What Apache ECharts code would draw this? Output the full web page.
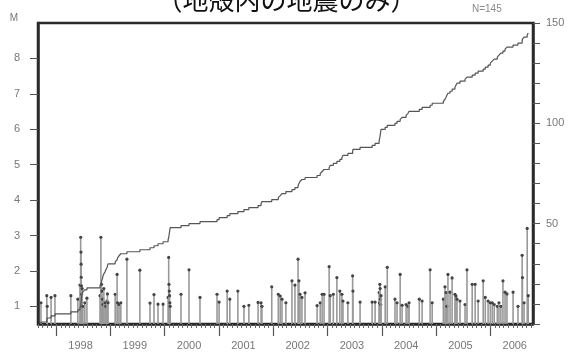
<!DOCTYPE html>
<html>
<head>
<meta charset="utf-8">
<script src="https://cdn.jsdelivr.net/npm/echarts@6/dist/echarts.min.js"></script>
<style>
  html, body { margin: 0; padding: 0; background: #fff; }
  #chart { width: 573px; height: 353px; }
</style>
</head>
<body>
<div id="chart"></div>
<script>
// Title of the M-T diagram
const titleText = '（地殻内の地震のみ）';

// Event origin dates and magnitudes (one entry per earthquake)
const eventDates = [
  '1997-09-21', '1997-10-30', '1997-11-02', '1997-11-28', '1997-12-24', '1998-04-10',
  '1998-05-27', '1998-06-10', '1998-06-15', '1998-06-17', '1998-06-18', '1998-06-19',
  '1998-06-20', '1998-06-22', '1998-06-25', '1998-06-30', '1998-07-13', '1998-07-27',
  '1998-10-23', '1998-10-29', '1998-11-02', '1998-11-05', '1998-11-10', '1998-11-12',
  '1998-11-18', '1998-11-26', '1998-12-01', '1998-12-09', '1998-12-12', '1998-12-16',
  '1999-02-02', '1999-02-15', '1999-02-18', '1999-02-28', '1999-03-12', '1999-04-22',
  '1999-07-18', '1999-09-24', '1999-10-21', '1999-11-17', '1999-12-21',
  '2000-01-24', '2000-01-28', '2000-01-30', '2000-02-01', '2000-02-03', '2000-02-05',
  '2000-02-07', '2000-04-20', '2000-06-13', '2000-08-26', '2000-12-19',
  '2001-01-02', '2001-02-25', '2001-03-15', '2001-05-08', '2001-06-18', '2001-07-21',
  '2001-09-21', '2001-10-11', '2001-10-17', '2001-12-22',
  '2002-02-04', '2002-02-17', '2002-03-01', '2002-03-27', '2002-05-07', '2002-05-27',
  '2002-06-17', '2002-06-23', '2002-06-30', '2002-07-13', '2002-08-03', '2002-10-23',
  '2002-11-13', '2002-11-26', '2002-12-09',
  '2003-01-12', '2003-01-19', '2003-02-09', '2003-03-05', '2003-03-25', '2003-04-08',
  '2003-04-15', '2003-05-18', '2003-06-19', '2003-06-21', '2003-08-08', '2003-10-28',
  '2003-11-17', '2003-12-14', '2003-12-16', '2003-12-19', '2003-12-21', '2003-12-23',
  '2003-12-25', '2003-12-27',
  '2004-01-24', '2004-02-07', '2004-03-30', '2004-04-13', '2004-05-04', '2004-05-17',
  '2004-06-13', '2004-06-26', '2004-07-03', '2004-09-10', '2004-09-29', '2004-11-22',
  '2004-12-06',
  '2005-02-19', '2005-03-02', '2005-03-09', '2005-03-15', '2005-03-22', '2005-04-05',
  '2005-04-19', '2005-05-08', '2005-05-15', '2005-05-22', '2005-06-11', '2005-07-15',
  '2005-07-28', '2005-09-01', '2005-09-21', '2005-10-11', '2005-11-14', '2005-11-28',
  '2005-12-17',
  '2006-01-01', '2006-01-14', '2006-01-27', '2006-02-17', '2006-02-28', '2006-03-13',
  '2006-03-27', '2006-04-10', '2006-04-23', '2006-06-03', '2006-07-06', '2006-08-03',
  '2006-08-05', '2006-08-16', '2006-09-06', '2006-09-13'
];
const eventMags = [
  1.1, 1.3, 1.0, 1.25, 1.3, 1.3,
  1.2, 1.6, 2.95, 2.53, 2.19, 1.82,
  1.58, 1.34, 1.5, 1.0, 1.1, 1.23,
  1.3, 2.95, 1.62, 1.43, 1.2, 1.05,
  1.5, 1.1, 1.0, 1.15, 1.35, 1.1,
  1.34, 1.9, 1.1, 1.05, 1.1, 2.33,
  2.02, 1.09, 1.33, 1.06, 1.06,
  1.25, 2.38, 1.62, 1.43, 1.3, 1.1,
  1.0, 1.34, 2.03, 1.25, 1.34,
  1.12, 1.43, 1.2, 1.43, 1.0, 1.03,
  1.11, 1.1, 1.0, 1.55,
  1.34, 1.29, 1.2, 1.1, 1.72, 1.6,
  2.33, 1.72, 1.34, 1.25, 1.38, 1.02,
  1.1, 1.34, 1.34,
  2.12, 1.3, 1.34, 1.81, 1.43, 1.34,
  1.15, 1.1, 1.86, 1.43, 1.12, 1.12,
  1.12, 1.39, 1.1, 1.62, 1.5, 1.2,
  1.05, 1.3,
  1.55, 2.1, 1.2, 1.1, 1.9, 1.03,
  1.05, 1.0, 1.1, 1.2, 1.15, 2.03,
  1.1,
  1.2, 1.55, 1.39, 1.0, 1.9, 1.4,
  1.8, 1.34, 1.29, 1.2, 1.15, 1.05,
  2.03, 1.62, 1.62, 1.15, 1.72, 1.25,
  1.15,
  1.1, 1.1, 1.05, 1.0, 1.1, 1.0,
  1.72, 1.4, 1.35, 1.4, 1.0, 2.44,
  1.81, 1.1, 3.2, 1.3
];

// Axis annotations
const magTicks = [1, 2, 3, 4, 5, 6, 7, 8];
const yearLabels = [1998, 1999, 2000, 2001, 2002, 2003, 2004, 2005, 2006];
const periodStart = '1997-09-01';
const periodEnd = '2006-10-15';
const magRange = [0.5, 9];
const countRange = [0, 150];

// Calendar date -> fractional year
function decYear(s) {
  const p = s.split('-').map(Number);
  const y = p[0];
  const t0 = Date.UTC(y, 0, 1), t1 = Date.UTC(y + 1, 0, 1);
  return y + (Date.UTC(y, p[1] - 1, p[2]) - t0) / (t1 - t0);
}

const xMin = decYear(periodStart);
const xMax = decYear(periodEnd);

// Monthly minor tick positions along the time axis
const monthTicks = [];
{
  const s = periodStart.split('-').map(Number);
  let y = s[0], m = s[1];
  while (true) {
    const v = decYear(y + '-' + String(m).padStart(2, '0') + '-01');
    if (v > xMax) break;
    monthTicks.push(v);
    m++; if (m > 12) { m = 1; y++; }
  }
}

// Events as [time, magnitude], sorted by time, plus cumulative count
const events = eventDates.map((d, i) => [decYear(d), eventMags[i]]).sort((a, b) => a[0] - b[0]);
const cumulative = [[events[0][0], 0]].concat(events.map((e, i) => [e[0], i + 1]));

const labelColor = '#777';
const labelFont = 'Liberation Sans, Arial, sans-serif';
const frameColor = '#2a2a2a';

const chart = echarts.init(document.getElementById('chart'), null, { renderer: 'canvas' });

chart.setOption({
  animation: false,
  backgroundColor: '#fff',
  title: {
    text: titleText,
    left: 'center',
    top: -18,
    textStyle: {
      fontSize: 26,
      fontWeight: 'normal',
      color: '#111',
      fontFamily: 'Noto Sans CJK JP'
    }
  },
  graphic: [{
    type: 'text',
    left: 472,
    top: 4,
    style: {
      text: 'N=' + events.length,
      fill: '#8a8a8a',
      font: '10px ' + labelFont
    }
  }],
  grid: {
    left: 38, right: 40, top: 23, bottom: 29,
    show: true,
    borderColor: frameColor,
    borderWidth: 2.5,
    backgroundColor: '#fff'
  },
  xAxis: [{
    type: 'value',
    min: xMin, max: xMax,
    position: 'bottom',
    axisLine: { show: true, lineStyle: { color: frameColor, width: 2.5 } },
    axisTick: {
      show: true,
      customValues: yearLabels,
      length: 12,
      lineStyle: { color: '#555', width: 1.2 }
    },
    axisLabel: {
      customValues: yearLabels.map(y => y + 0.45),
      formatter: v => String(Math.floor(v)),
      color: labelColor,
      fontSize: 11,
      fontFamily: labelFont,
      margin: 16
    },
    splitLine: { show: false }
  }, {
    type: 'value',
    min: xMin, max: xMax,
    position: 'bottom',
    axisLine: { show: false },
    axisTick: {
      show: true,
      customValues: monthTicks,
      length: 4,
      lineStyle: { color: '#666', width: 1 }
    },
    axisLabel: { show: false },
    splitLine: { show: false }
  }],
  yAxis: [{
    type: 'value',
    min: magRange[0], max: magRange[1],
    position: 'left',
    name: 'M',
    nameLocation: 'end',
    nameGap: 5,
    nameTextStyle: {
      color: labelColor, fontSize: 10, fontFamily: labelFont,
      align: 'right', verticalAlign: 'middle', padding: [0, 20, 0, 0]
    },
    axisLine: { show: true, lineStyle: { color: frameColor, width: 2.5 } },
    axisTick: {
      show: true,
      customValues: magTicks,
      length: 8,
      lineStyle: { color: '#555', width: 1 }
    },
    axisLabel: {
      customValues: magTicks,
      color: labelColor,
      fontSize: 11,
      fontFamily: labelFont,
      margin: 18
    },
    splitLine: { show: false }
  }, {
    type: 'value',
    min: countRange[0], max: countRange[1],
    interval: 10,
    position: 'right',
    axisLine: { show: true, lineStyle: { color: frameColor, width: 2.5 } },
    axisTick: { show: true, length: 7, lineStyle: { color: '#555', width: 1 } },
    axisLabel: {
      formatter: v => (v > 0 && v % 50 === 0) ? String(v) : '',
      color: labelColor,
      fontSize: 11,
      fontFamily: labelFont,
      margin: 13
    },
    splitLine: { show: false }
  }],
  series: [{
    // Magnitude stems: one vertical bar per event, capped with a dot
    type: 'custom',
    xAxisIndex: 0,
    yAxisIndex: 0,
    encode: { x: 0, y: 1 },
    data: events,
    z: 3,
    renderItem: function (params, api) {
      const t = api.value(0), m = api.value(1);
      const top = api.coord([t, m]);
      const base = api.coord([t, magRange[0]]);
      return {
        type: 'group',
        children: [{
          type: 'line',
          shape: { x1: top[0], y1: base[1], x2: top[0], y2: top[1] },
          style: { stroke: '#999', lineWidth: 1.6 }
        }, {
          type: 'circle',
          shape: { cx: top[0], cy: top[1], r: 1.6 },
          style: { fill: '#444' }
        }]
      };
    }
  }, {
    // Cumulative number of events
    type: 'line',
    xAxisIndex: 0,
    yAxisIndex: 1,
    data: cumulative,
    step: 'end',
    showSymbol: false,
    symbol: 'none',
    z: 4,
    lineStyle: { color: '#555', width: 1.2 }
  }]
});
</script>
</body>
</html>
